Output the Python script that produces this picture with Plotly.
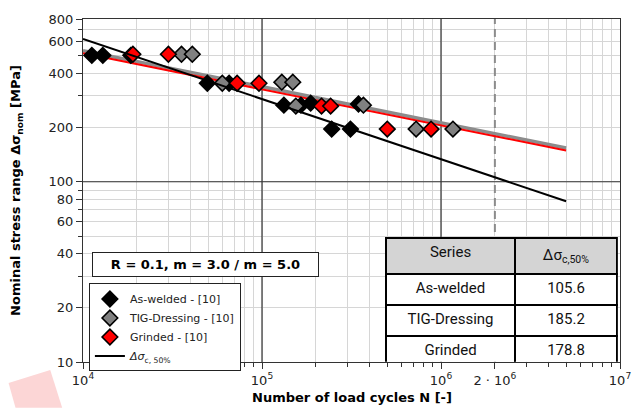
import plotly.graph_objects as go

# ---------------- data ----------------
aw_N = [11200, 12900, 18500, 49500, 65500, 132500, 165000, 187000, 346000, 245000, 312000]
aw_S = [503, 503, 503, 352, 352, 266, 266, 273, 270, 196, 196]

tig_N = [35500, 40800, 60000, 129000, 148600, 154500, 368600, 726000, 1166000]
tig_S = [510, 510, 352, 357, 357, 263, 266, 196, 196]

gr_N = [19000, 30000, 72600, 96200, 215000, 241700, 501000, 880000]
gr_S = [510, 510, 352, 352, 263, 263, 196, 196]

line_N = [1e4, 5e6]
aw_line_S = [620, 78]
tig_line_S = [534, 154]
gr_line_S = [516, 149]

series_names = ["As-welded", "TIG-Dressing", "Grinded"]
delta_sigma_c = [105.6, 185.2, 178.8]

x_tickvals = [1e4, 1e5, 1e6, 2e6, 1e7]
x_ticktext = ["10<sup>4</sup>", "10<sup>5</sup>", "10<sup>6</sup>", "2 · 10<sup>6</sup>", "10<sup>7</sup>"]
y_tickvals = [10, 20, 40, 60, 80, 100, 200, 400, 600, 800]
y_ticktext = ["10", "20", "40", "60", "80", "100", "200", "400", "600", "800"]

x_minor = [k * 10 ** d for d in (4, 5, 6) for k in range(2, 10) if k * 10 ** d != 2e6]
y_minor = [k * 10 ** d for d in (1, 2) for k in range(2, 10) if k * 10 ** d < 800 and k * 10 ** d not in y_tickvals]

N_ref = 2e6
Y_MIN, Y_MAX = 10, 800

FONT = "DejaVu Sans"
fig = go.Figure()

# dark decade grid lines + 2e6 reference line
for xv in (1e5, 1e6):
    fig.add_trace(go.Scatter(x=[xv, xv], y=[Y_MIN, Y_MAX], mode="lines",
                             line=dict(color="#333333", width=1.2),
                             showlegend=False, hoverinfo="skip"))
fig.add_trace(go.Scatter(x=[1e4, 1e7], y=[100, 100], mode="lines",
                         line=dict(color="#333333", width=1.2),
                         showlegend=False, hoverinfo="skip"))
fig.add_trace(go.Scatter(x=[N_ref, N_ref], y=[Y_MIN, Y_MAX], mode="lines",
                         line=dict(color="#8c8c8c", width=2, dash="8px,5px"),
                         showlegend=False, hoverinfo="skip"))

# fitted lines
fig.add_trace(go.Scatter(x=line_N, y=tig_line_S, mode="lines",
                         line=dict(color="#8c8c8c", width=3.5),
                         showlegend=False, hoverinfo="skip"))
fig.add_trace(go.Scatter(x=line_N, y=gr_line_S, mode="lines",
                         line=dict(color="#ff0000", width=2),
                         showlegend=False, hoverinfo="skip"))

# data points
mk = dict(symbol="diamond", size=12, line=dict(color="black", width=1.6))
fig.add_trace(go.Scatter(x=aw_N, y=aw_S, mode="markers", name="As-welded - [10]",
                         marker=dict(mk, color="black")))
fig.add_trace(go.Scatter(x=tig_N, y=tig_S, mode="markers", name="TIG-Dressing - [10]",
                         marker=dict(mk, color="#808080")))
fig.add_trace(go.Scatter(x=gr_N, y=gr_S, mode="markers", name="Grinded - [10]",
                         marker=dict(mk, color="#ff0000")))
fig.add_trace(go.Scatter(x=line_N, y=aw_line_S, mode="lines",
                         name="<i>Δσ</i><sub>c, 50%</sub>",
                         line=dict(color="black", width=2)))

# table
fig.add_trace(go.Table(
    domain=dict(x=[0.564, 0.996], y=[0.0, 0.362]),
    columnwidth=[131, 103],
    header=dict(values=["Series", "Δσ<sub>c,50%</sub>"],
                fill_color="#d4d4d4", line=dict(color="black", width=1.5),
                font=dict(family="Roboto", size=15, color="#111"),
                align="center", height=31),
    cells=dict(values=[series_names, [f"{v:.1f}" for v in delta_sigma_c]],
               fill_color="white", line=dict(color="black", width=1.5),
               font=dict(family="Roboto", size=15, color="#111"),
               align="center", height=31),
))

axis_common = dict(type="log", showline=True, mirror=True, linecolor="#333",
                   linewidth=1.2, ticks="outside", ticklen=6, tickcolor="#333",
                   gridcolor="#d6d6d6", gridwidth=1, zeroline=False,
                   tickfont=dict(family=FONT, size=13, color="#222"))

fig.update_layout(
    width=643, height=408,
    margin=dict(l=83, r=19, t=17, b=46),
    paper_bgcolor="white", plot_bgcolor="white",
    xaxis=dict(axis_common, range=[4, 7], tickmode="array",
               tickvals=x_tickvals, ticktext=x_ticktext,
               minor=dict(tickvals=x_minor, ticks="outside", ticklen=4,
                          tickcolor="#333", showgrid=True, gridcolor="#d6d6d6")),
    yaxis=dict(axis_common, range=[1, 2.90309], tickmode="array",
               tickvals=y_tickvals, ticktext=y_ticktext,
               minor=dict(tickvals=y_minor, ticks="outside", ticklen=4,
                          tickcolor="#333", showgrid=True, gridcolor="#d6d6d6")),
    legend=dict(x=0.011, y=0.229, xanchor="left", yanchor="top",
                bgcolor="white", bordercolor="#222", borderwidth=1,
                font=dict(family=FONT, size=11, color="#222"),
                tracegroupgap=0, itemwidth=30),
    showlegend=True,
    annotations=[
        dict(text="<b>R = 0.1, m = 3.0 / m = 5.0</b>", xref="paper", yref="paper",
             x=0.228, y=0.283, xanchor="center", yanchor="middle", showarrow=False,
             font=dict(family=FONT, size=13, color="black"), width=221, height=19,
             bgcolor="white", bordercolor="#222", borderwidth=1, borderpad=2),
        dict(text="<b>Number of load cycles N [-]</b>", xref="paper", yref="paper",
             x=0.5, y=-0.104, xanchor="center", yanchor="middle", showarrow=False,
             font=dict(family=FONT, size=13, color="black")),
        dict(text="<b>Nominal stress range Δσ<sub>nom</sub> [MPa]</b>", xref="paper",
             yref="paper", x=-0.124, y=0.5, xanchor="center", yanchor="middle",
             textangle=-90, showarrow=False,
             font=dict(family=FONT, size=13, color="black")),
    ],
    shapes=[dict(type="path", xref="paper", yref="paper", layer="below",
                 path="M -0.1386 -0.0609 L -0.061 -0.0232 L -0.0388 -0.1333 L -0.1257 -0.1333 Z",
                 fillcolor="#fcd6d6", line=dict(width=0))],
)

fig.write_html("out.html")
